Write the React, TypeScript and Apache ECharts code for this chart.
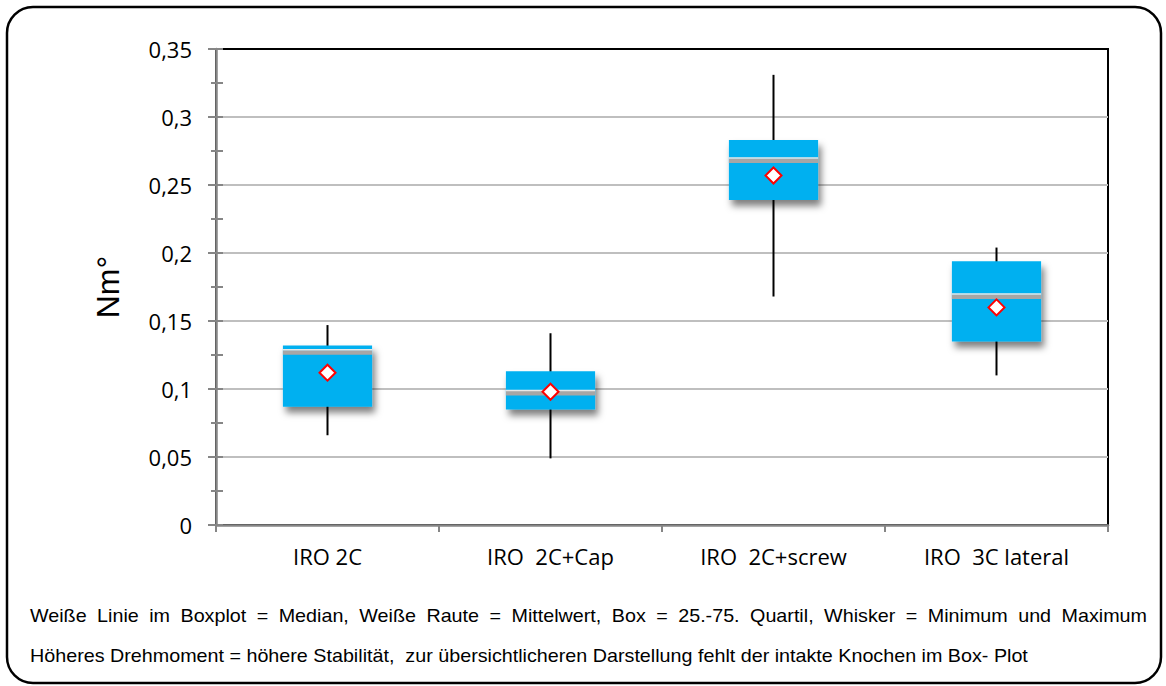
import React, { useEffect, useRef } from "react";
import * as echarts from "echarts";

const categories = ["IRO 2C", "IRO  2C+Cap", "IRO  2C+screw", "IRO  3C lateral"];
const whiskerMin = [0.066, 0.049, 0.168, 0.110];
const quartil1 = [0.087, 0.085, 0.239, 0.135];
const medianValues = [0.127, 0.097, 0.268, 0.168];
const quartil3 = [0.132, 0.113, 0.283, 0.194];
const whiskerMax = [0.147, 0.141, 0.331, 0.204];
const meanValues = [0.112, 0.098, 0.257, 0.160];

const yMin = 0;
const yMax = 0.35;
const yInterval = 0.05;
const yAxisName = "Nm°";

const noteLine1 = "Weiße Linie im Boxplot = Median, Weiße Raute = Mittelwert, Box = 25.-75. Quartil, Whisker = Minimum und Maximum";
const noteLine2 = "Höheres Drehmoment = höhere Stabilität,  zur übersichtlicheren Darstellung fehlt der intakte Knochen im Box- Plot";

export default function App() {
  const ref = useRef<HTMLDivElement>(null);

  useEffect(() => {
    document.body.style.margin = "0";
    if (!ref.current) return;
    const chart = echarts.init(ref.current, null, { renderer: "svg" });

    const noteFont = 19;
    const noteFamily = "'Liberation Sans', Arial, sans-serif";
    const canvas = document.createElement("canvas");
    const ctx = canvas.getContext("2d")!;
    ctx.font = `${noteFont}px "Liberation Sans"`;
    const line2W = ctx.measureText(noteLine2).width;
    const line2Target = 998;
    const sx = line2Target / line2W;
    const left = 30;
    const right = 1147;
    const words = noteLine1.split(" ");
    const widths = words.map((w) => ctx.measureText(w).width * sx);
    const total = widths.reduce((a, b) => a + b, 0);
    const gap = (right - left - total) / (words.length - 1);
    const wordEls: any[] = [];
    let cx = left;
    words.forEach((w, i) => {
      wordEls.push({
        type: "text",
        x: cx,
        y: 615,
        scaleX: sx,
        style: { text: w, fontSize: noteFont, fontFamily: noteFamily, fill: "#000", verticalAlign: "middle", align: "left" },
      });
      cx += widths[i] + gap;
    });

    const boxData = categories.map((_, i) => [i, whiskerMin[i], quartil1[i], medianValues[i], quartil3[i], whiskerMax[i]]);

    const option: any = {
      animation: false,
      backgroundColor: "#fff",
      grid: { left: 216, right: 58, top: 49, bottom: 161, show: true, borderColor: "#000", borderWidth: 2, backgroundColor: "transparent" },
      xAxis: [
        {
          type: "category",
          data: categories,
          boundaryGap: true,
          axisLine: { show: true, lineStyle: { color: "#868686", width: 2.5 } },
          axisTick: { show: true, length: 7, lineStyle: { color: "#868686", width: 2 } },
          axisLabel: { color: "#000", fontSize: 22, fontFamily: "'Open Sans', sans-serif", margin: 20 },
          splitLine: { show: false },
        },
        {
          type: "category",
          data: categories,
          position: "top",
          axisLine: { show: true, onZero: false, lineStyle: { color: "#000", width: 2 } },
          axisTick: { show: false },
          axisLabel: { show: false },
          splitLine: { show: false },
        },
      ],
      yAxis: [
        {
          type: "value",
          min: yMin,
          max: yMax,
          interval: yInterval,
          name: yAxisName,
          nameLocation: "middle",
          nameGap: 92,
          nameRotate: 90,
          nameTextStyle: { color: "#000", fontSize: 32, fontFamily: "'Liberation Sans', Arial, sans-serif" },
          axisLine: { show: true, lineStyle: { color: "#868686", width: 2.5 } },
          axisTick: { show: true, length: 8, lineStyle: { color: "#868686", width: 2 } },
          minorTick: { show: true, splitNumber: 2, length: 5, lineStyle: { color: "#868686", width: 2 } },
          axisLabel: {
            color: "#000",
            fontSize: 22,
            fontFamily: "'Open Sans', sans-serif",
            margin: 24,
            formatter: (v: number) => String(Math.round(v * 1000) / 1000).replace(".", ","),
          },
          splitLine: { show: true, showMaxLine: false, showMinLine: false, lineStyle: { color: "#BFBFBF", width: 2 } },
        },
        {
          type: "value",
          position: "left",
          min: yMin,
          max: yMax,
          interval: yInterval,
          axisLine: { show: false },
          axisTick: { show: true, inside: true, length: 7, lineStyle: { color: "#868686", width: 2 } },
          minorTick: { show: true, splitNumber: 2, length: 7, lineStyle: { color: "#868686", width: 2 } },
          axisLabel: { show: false },
          splitLine: { show: false },
        },
      ],
      series: [
        {
          type: "custom",
          xAxisIndex: 0,
          yAxisIndex: 0,
          encode: { x: 0, y: [1, 2, 3, 4, 5] },
          data: boxData,
          z: 3,
          renderItem: (params: any, api: any) => {
            const x = api.value(0);
            const pMin = api.coord([x, api.value(1)]);
            const pQ1 = api.coord([x, api.value(2)]);
            const pMed = api.coord([x, api.value(3)]);
            const pQ3 = api.coord([x, api.value(4)]);
            const pMax = api.coord([x, api.value(5)]);
            const w = api.size([1, 0])[0] * 0.4;
            return {
              type: "group",
              children: [
                { type: "line", shape: { x1: pMin[0], y1: pMin[1], x2: pMax[0], y2: pMax[1] }, style: { stroke: "#000", lineWidth: 2 } },
                {
                  type: "rect",
                  shape: { x: pQ3[0] - w / 2, y: pQ3[1], width: w, height: pQ1[1] - pQ3[1] },
                  style: { fill: "#00B0F0", shadowBlur: 7, shadowColor: "rgba(0,0,0,0.5)", shadowOffsetX: 3, shadowOffsetY: 6 },
                },
                { type: "rect", shape: { x: pMed[0] - w / 2, y: pMed[1] - 2, width: w, height: 4.5 }, style: { fill: "#A6A6A6" } },
                { type: "line", shape: { x1: pMed[0] - w / 2, y1: pMed[1] - 2.5, x2: pMed[0] + w / 2, y2: pMed[1] - 2.5 }, style: { stroke: "#E8E8E8", lineWidth: 1.5 } },
              ],
            };
          },
        },
        {
          type: "scatter",
          xAxisIndex: 0,
          yAxisIndex: 0,
          data: meanValues,
          symbol: "diamond",
          symbolSize: 16,
          z: 5,
          itemStyle: { color: "#fff", borderColor: "#FF0000", borderWidth: 2, opacity: 1 },
        },
      ],
      graphic: [
        {
          type: "rect",
          shape: { x: 7, y: 7, width: 1154, height: 676, r: 26 },
          style: { fill: "none", stroke: "#000", lineWidth: 2.5 },
          z: 0,
          silent: true,
        },
        ...wordEls,
        {
          type: "text",
          x: left,
          y: 655,
          scaleX: sx,
          style: { text: noteLine2, fontSize: noteFont, fontFamily: noteFamily, fill: "#000", verticalAlign: "middle", align: "left" },
        },
      ],
    };
    chart.setOption(option);
    return () => chart.dispose();
  }, []);

  return <div ref={ref} style={{ width: 1166, height: 686 }} />;
}
